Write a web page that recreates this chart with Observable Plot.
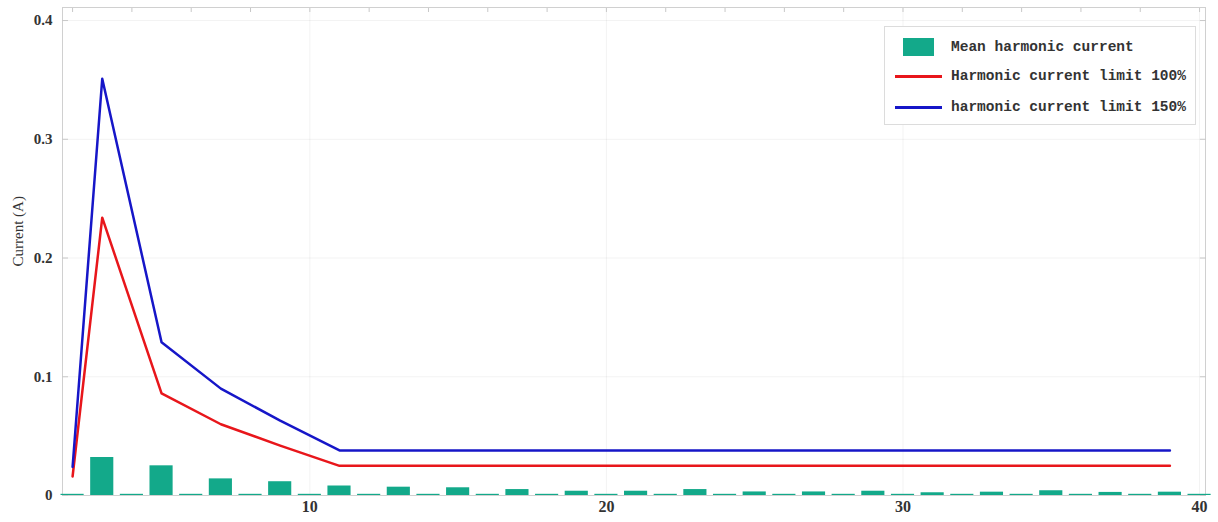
<!DOCTYPE html>
<html>
<head>
<meta charset="utf-8">
<script src="https://cdn.jsdelivr.net/npm/d3@7"></script>
<script src="https://cdn.jsdelivr.net/npm/@observablehq/plot@0.6"></script>
<style>
  body { margin: 0; background: #fff; }
  #chart { position: relative; width: 1218px; height: 522px; }
  .legend {
    position: absolute; left: 884px; top: 26px; width: 312px; height: 99px;
    box-sizing: border-box; border: 1px solid #dcdcdc; background: #fff;
    font: bold 14.5px "Liberation Mono", "DejaVu Sans Mono", monospace; color: #333;
  }
  .legend .row { position: absolute; left: 0; height: 20px; width: 100%; }
  .legend .label { position: absolute; left: 66px; top: 0; line-height: 20px; white-space: nowrap; }
  .legend .swatch { position: absolute; left: 18px; top: 1px; width: 31px; height: 18px; }
  .legend .stroke { position: absolute; left: 10px; top: 9px; width: 47px; height: 2.5px; }
</style>
</head>
<body>
<div id="chart"></div>
<script>
// Harmonic orders with a measured mean current (A)
const orders = [2, 3, 4, 5, 6, 7, 8, 9, 10, 11, 12, 13, 14, 15, 16, 17, 18, 19, 20, 21,
                22, 23, 24, 25, 26, 27, 28, 29, 30, 31, 32, 33, 34, 35, 36, 37, 38, 39, 40];
const meanCurrent = [0.001, 0.032, 0.001, 0.025, 0.001, 0.014, 0.001, 0.0116, 0.001, 0.008,
                     0.001, 0.007, 0.001, 0.0065, 0.001, 0.005, 0.001, 0.0036, 0.001, 0.0036,
                     0.001, 0.005, 0.001, 0.003, 0.001, 0.003, 0.001, 0.0036, 0.001, 0.0023,
                     0.001, 0.0028, 0.001, 0.004, 0.001, 0.0026, 0.001, 0.0028, 0.001];

// Orders at which the limits are defined
const limitOrders = [2, 3, 5, 7, 9, 11, 13, 15, 17, 19, 21, 23, 25, 27, 29, 31, 33, 35, 37, 39];
const limit100 = [0.016, 0.234, 0.086, 0.060, 0.042, 0.025, 0.025, 0.025, 0.025, 0.025,
                  0.025, 0.025, 0.025, 0.025, 0.025, 0.025, 0.025, 0.025, 0.025, 0.025];
const limit150 = [0.024, 0.351, 0.129, 0.090, 0.063, 0.038, 0.038, 0.038, 0.038, 0.038,
                  0.038, 0.038, 0.038, 0.038, 0.038, 0.038, 0.038, 0.038, 0.038, 0.038];

// Axis ticks and labels
const xTicks = [10, 20, 30, 40];
const xMinorTicks = [2, 4, 6, 8, 10, 12, 14, 16, 18, 20, 22, 24, 26, 28, 30, 32, 34, 36, 38, 40];
const yTicks = [0, 0.1, 0.2, 0.3, 0.4];
const yTickLabels = ["0", "0.1", "0.2", "0.3", "0.4"];
const yLabel = "Current (A)";
const seriesNames = ["Mean harmonic current", "Harmonic current limit 100%", "harmonic current limit 150%"];
const colors = ["#13a98a", "#e8161b", "#1616c8"];

const bars = orders.map((order, i) => ({order, current: meanCurrent[i]}));
const red = limitOrders.map((order, i) => ({order, limit: limit100[i]}));
const blue = limitOrders.map((order, i) => ({order, limit: limit150[i]}));
const halfWidth = 0.39;

const chart = Plot.plot({
  width: 1218,
  height: 522,
  marginLeft: 62,
  marginRight: 13,
  marginTop: 7,
  marginBottom: 27,
  x: {domain: [1.66, 40.2]},
  y: {domain: [0, 0.411]},
  style: {fontFamily: "'Liberation Serif', serif", fontSize: "15px", color: "#333", background: "#fff"},
  marks: [
    Plot.gridX(xTicks, {stroke: "#000", strokeOpacity: 0.05}),
    Plot.gridY(yTicks.slice(1), {stroke: "#000", strokeOpacity: 0.05}),
    Plot.frame({stroke: "#d0d0d0"}),
    Plot.rectY(bars, {
      x1: d => d.order - halfWidth,
      x2: d => d.order + halfWidth,
      y: "current",
      fill: colors[0]
    }),
    Plot.line(red, {x: "order", y: "limit", stroke: colors[1], strokeWidth: 2.5}),
    Plot.line(blue, {x: "order", y: "limit", stroke: colors[2], strokeWidth: 2.5}),
    // inward frame ticks
    Plot.axisX({anchor: "top", ticks: xMinorTicks, tickSize: -4, tickFormat: () => "", stroke: "#c8c8c8", label: null}),
    Plot.axisY({anchor: "left", ticks: yTicks, tickSize: -6, tickFormat: () => "", stroke: "#c8c8c8", label: null}),
    Plot.axisY({anchor: "right", ticks: yTicks, tickSize: -6, tickFormat: () => "", stroke: "#c8c8c8", label: null}),
    // labelled axes
    Plot.axisX({ticks: xTicks, tickSize: 0, tickPadding: 5, fontWeight: "bold", fontSize: 16, label: null}),
    Plot.axisY({
      ticks: yTicks, tickSize: 0, tickPadding: 10, fontWeight: "bold", fontSize: 15, label: null,
      tickFormat: d => yTickLabels[yTicks.indexOf(d)]
    }),
    Plot.text([yLabel], {
      frameAnchor: "left", dx: -44, dy: 15, rotate: -90,
      fontSize: 15, fill: "#333", text: d => d
    })
  ]
});

const root = document.getElementById("chart");
root.appendChild(chart);

// Legend drawn over the upper right of the frame
const legend = document.createElement("div");
legend.className = "legend";
const rowTops = [10, 39, 70];
seriesNames.forEach((name, i) => {
  const row = document.createElement("div");
  row.className = "row";
  row.style.top = rowTops[i] + "px";
  const key = document.createElement("div");
  key.className = i === 0 ? "swatch" : "stroke";
  key.style.background = colors[i];
  const label = document.createElement("div");
  label.className = "label";
  label.textContent = name;
  row.appendChild(key);
  row.appendChild(label);
  legend.appendChild(row);
});
root.appendChild(legend);
</script>
</body>
</html>
